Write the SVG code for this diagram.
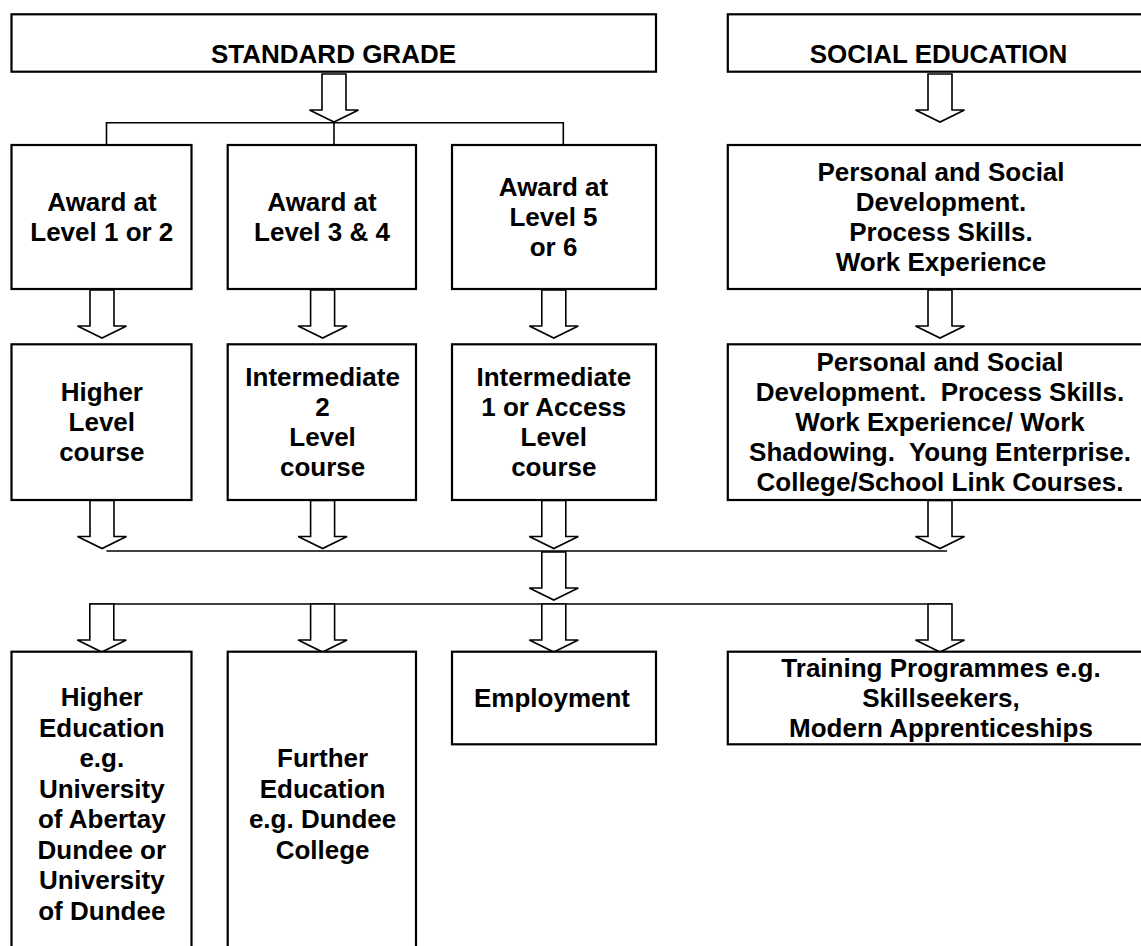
<svg xmlns="http://www.w3.org/2000/svg" width="1141" height="946" viewBox="0 0 1141 946">
<defs>
<style>
.box{fill:#fff;stroke:#000;stroke-width:2.2}
.t{font-family:"Liberation Sans",Arial,sans-serif;font-weight:bold;font-size:26px;text-anchor:middle;fill:#000;white-space:pre}
.ln{fill:none;stroke:#000;stroke-width:1.6}
.ar{fill:#fff;stroke:#000;stroke-width:1.6;stroke-linejoin:miter}
</style>
<path id="arr" d="M-12,0 V36 H-24.5 L0,48 L24.5,36 H12 V0 Z"/>
</defs>
<rect width="1141" height="946" fill="#fff"/>

<g id="connectors">
<polyline class="ln" points="106.5,145 106.5,122.7 563.3,122.7 563.3,145"/>
<line class="ln" x1="334" y1="122.7" x2="334" y2="145"/>
<line class="ln" x1="106.5" y1="551" x2="947" y2="551"/>
<line class="ln" x1="89.6" y1="604" x2="952" y2="604"/>
<use href="#arr" class="ar" x="334" y="74"/>
<use href="#arr" class="ar" x="940" y="74"/>
<use href="#arr" class="ar" x="102" y="290"/>
<use href="#arr" class="ar" x="322.6" y="290"/>
<use href="#arr" class="ar" x="553.8" y="290"/>
<use href="#arr" class="ar" x="940" y="290"/>
<use href="#arr" class="ar" x="102" y="500.5"/>
<use href="#arr" class="ar" x="322.6" y="500.5"/>
<use href="#arr" class="ar" x="553.8" y="500.5"/>
<use href="#arr" class="ar" x="940" y="500.5"/>
<use href="#arr" class="ar" x="553.8" y="552"/>
<use href="#arr" class="ar" x="101.8" y="604"/>
<use href="#arr" class="ar" x="322.6" y="604"/>
<use href="#arr" class="ar" x="553.8" y="604"/>
<use href="#arr" class="ar" x="940" y="604"/>
</g>

<g id="standard-grade">
<rect class="box" x="11.5" y="14.3" width="644.5" height="57.4"/>
<text class="t" x="333.5" y="62.5">STANDARD GRADE</text>
</g>
<g id="social-education">
<rect class="box" x="727.8" y="14.3" width="420" height="57.4"/>
<text class="t" x="938.5" y="62.5">SOCIAL EDUCATION</text>
</g>

<g id="award-1-2">
<rect class="box" x="11.5" y="145" width="180" height="144"/>
<text class="t" x="102" y="211.3">Award at</text>
<text class="t" x="101.8" y="241.3">Level 1 or 2</text>
</g>
<g id="award-3-4">
<rect class="box" x="227.7" y="145" width="188.3" height="144"/>
<text class="t" x="322" y="211.3">Award at</text>
<text class="t" x="322" y="241.3">Level 3 &amp; 4</text>
</g>
<g id="award-5-6">
<rect class="box" x="452" y="145" width="204" height="144"/>
<text class="t" x="553.5" y="196.3">Award at</text>
<text class="t" x="553.5" y="226.3">Level 5</text>
<text class="t" x="553.5" y="256.3">or 6</text>
</g>
<g id="psd-1">
<rect class="box" x="727.8" y="145" width="420" height="144"/>
<text class="t" x="941" y="181.3">Personal and Social</text>
<text class="t" x="941" y="211.3">Development.</text>
<text class="t" x="941" y="241.3">Process Skills.</text>
<text class="t" x="941" y="271.3">Work Experience</text>
</g>

<g id="higher-level">
<rect class="box" x="11.5" y="344.3" width="180" height="155.7"/>
<text class="t" x="101.8" y="401.3">Higher</text>
<text class="t" x="101.8" y="431.3">Level</text>
<text class="t" x="101.8" y="461.3">course</text>
</g>
<g id="intermediate-2">
<rect class="box" x="227.7" y="344.3" width="188.3" height="155.7"/>
<text class="t" x="322.6" y="386.3">Intermediate</text>
<text class="t" x="322.6" y="416.3">2</text>
<text class="t" x="322.6" y="446.3">Level</text>
<text class="t" x="322.6" y="476.3">course</text>
</g>
<g id="intermediate-1">
<rect class="box" x="452" y="344.3" width="204" height="155.7"/>
<text class="t" x="553.8" y="386.3">Intermediate</text>
<text class="t" x="553.8" y="416.3">1 or Access</text>
<text class="t" x="553.8" y="446.3">Level</text>
<text class="t" x="553.8" y="476.3">course</text>
</g>
<g id="psd-2">
<rect class="box" x="727.8" y="344.3" width="420" height="155.7"/>
<text class="t" x="940" y="371.3">Personal and Social</text>
<text class="t" x="940" y="401.3">Development.  Process Skills.</text>
<text class="t" x="940" y="431.3">Work Experience/ Work</text>
<text class="t" x="940" y="461.3">Shadowing.  Young Enterprise.</text>
<text class="t" x="940" y="491.3">College/School Link Courses.</text>
</g>

<g id="higher-education">
<rect class="box" x="11.5" y="651.7" width="180" height="310"/>
<text class="t" x="101.8" y="706">Higher</text>
<text class="t" x="101.8" y="736.5">Education</text>
<text class="t" x="101.8" y="767">e.g.</text>
<text class="t" x="101.8" y="797.5">University</text>
<text class="t" x="101.8" y="828">of Abertay</text>
<text class="t" x="101.8" y="858.5">Dundee or</text>
<text class="t" x="101.8" y="889">University</text>
<text class="t" x="101.8" y="919.5">of Dundee</text>
</g>
<g id="further-education">
<rect class="box" x="227.7" y="651.7" width="188.3" height="310"/>
<text class="t" x="322.6" y="767">Further</text>
<text class="t" x="322.6" y="797.5">Education</text>
<text class="t" x="322.6" y="828">e.g. Dundee</text>
<text class="t" x="322.6" y="858.5">College</text>
</g>
<g id="employment">
<rect class="box" x="452" y="651.7" width="204" height="92.6"/>
<text class="t" x="552" y="707">Employment</text>
</g>
<g id="training">
<rect class="box" x="727.8" y="651.7" width="420" height="92.6"/>
<text class="t" x="941" y="677.3">Training Programmes e.g.</text>
<text class="t" x="941" y="707.3">Skillseekers,</text>
<text class="t" x="941" y="737">Modern Apprenticeships</text>
</g>
</svg>
